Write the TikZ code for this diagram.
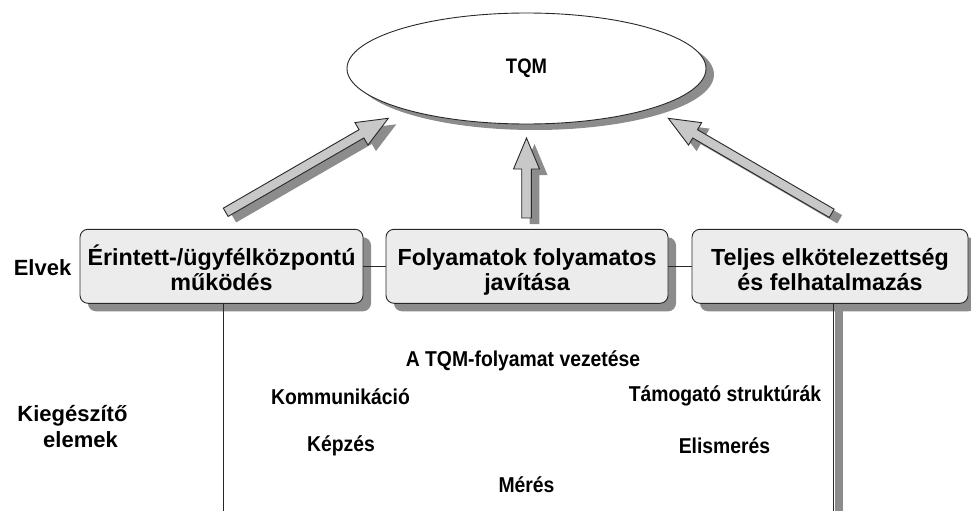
\documentclass[tikz,border=0pt]{standalone}
\usepackage{fontspec}
\setmainfont{Liberation Sans}
\newfontfamily\narrowsans[FakeStretch=0.9]{Liberation Sans}
\newfontfamily\tqmsans[FakeStretch=0.88]{Liberation Sans}
\usetikzlibrary{calc,shadows,shapes.geometric}
\definecolor{shd}{RGB}{140,140,140}
\definecolor{boxfill}{RGB}{236,236,236}
\definecolor{arrfill}{RGB}{200,200,200}
\definecolor{edge}{RGB}{40,40,40}
\newcommand\twol[2]{\smash{#1}\rule{0pt}{22.4pt}\\\smash{#2}}
\newcommand\blockarrow[3]{%
  \coordinate (#3hb) at ($(#2)!31pt!(#1)$);
  \filldraw[arrowbody]
    ($(#1)!4.8pt!90:(#2)$) -- ($(#3hb)!4.8pt!90:(#2)$) -- ($(#3hb)!13pt!90:(#2)$)
    -- (#2) -- ($(#3hb)!13pt!-90:(#2)$) -- ($(#3hb)!4.8pt!-90:(#2)$)
    -- ($(#1)!4.8pt!-90:(#2)$) -- cycle;}
\tikzset{
  sh/.style={drop shadow={shadow xshift=8pt, shadow yshift=-8pt, fill=shd, opacity=1}},
  boxnode/.style={draw=edge, line width=0.9pt, fill=boxfill, rounded corners=8pt,
    minimum height=74pt, inner sep=0pt, align=center,
    font=\bfseries\fontsize{23.3}{25}\selectfont, sh},
  lowtxt/.style={font=\narrowsans\bfseries\fontsize{21.5}{24}\selectfont, text height=15.4pt,
    text depth=0pt, inner sep=0pt},
  sidetxt/.style={font=\bfseries\fontsize{22}{25.5}\selectfont, inner sep=0pt},
  arrowbody/.style={draw=edge, line width=0.9pt, fill=arrfill, line join=miter,
    drop shadow={shadow xshift=8pt, shadow yshift=-6pt, fill=shd, opacity=1}},
  link/.style={draw=edge, line width=1.1pt},
}
\begin{document}
\begin{tikzpicture}[x=1pt, y=-1pt]
  \useasboundingbox (0,0) rectangle (971,511);
  % top ellipse
  \node[ellipse, draw=edge, line width=0.9pt, fill=white, minimum width=359pt,
    minimum height=111pt, inner sep=0pt,
    drop shadow={shadow xshift=8pt, shadow yshift=-6pt, fill=shd, opacity=1},
    font=\tqmsans\bfseries\fontsize{21}{22}\selectfont] (tqm) at (526.5,68.5) {TQM};
  % block arrows
  \coordinate (a1t) at (225.7,212.3); \coordinate (a1h) at (388.3,118.3);
  \coordinate (a2t) at (526.5,218);   \coordinate (a2h) at (526.5,138);
  \coordinate (a3t) at (831.7,213.3); \coordinate (a3h) at (668.3,118.3);
  \blockarrow{a1t}{a1h}{a1}
  \blockarrow{a2t}{a2h}{a2}
  \blockarrow{a3t}{a3h}{a3}
  % vertical lines
  \coordinate (v1) at (223.5,511);
  \coordinate (v2) at (833.5,511);
  \fill[shd] (834.5,303) rectangle (843,511);
  % boxes
  \node[boxnode, minimum width=283pt] (b1) at (221.5,266.3)
    {\twol{Érintett-/ügyfélközpontú}{működés}};
  \node[boxnode, minimum width=282pt] (b2) at (527,266.3)
    {\twol{Folyamatok folyamatos}{javítása}};
  \node[boxnode, minimum width=276pt] (b3) at (830,266.3)
    {\twol{Teljes elkötelezettség}{és felhatalmazás}};
  \draw[link] (b1.east) -- (b2.west);
  \draw[link] (b2.east) -- (b3.west);
  \draw[link] (v1 |- b1.south) -- (v1);
  \draw[edge, line width=1.8pt] (v2 |- b3.south) -- (v2);
  % side labels
  \node[sidetxt, text height=15.7pt, text depth=0pt] (elvek) at (42.5,267.2) {Elvek};
  \node[sidetxt, align=center] (kieg) at (72.5,434.4)
    {\smash{Kiegészítő}\\\hspace*{16pt}\smash{elemek}};
  % supplementary elements
  \node[lowtxt] (t1) at (523,359) {A TQM-folyamat vezetése};
  \node[lowtxt] (t2) at (340.5,397) {Kommunikáció};
  \node[lowtxt] (t3) at (725,394) {Támogató struktúrák};
  \node[lowtxt] (t4) at (341,444) {Képzés};
  \node[lowtxt] (t5) at (724.5,446) {Elismerés};
  \node[lowtxt] (t6) at (526.5,484.5) {Mérés};
\end{tikzpicture}
\end{document}
